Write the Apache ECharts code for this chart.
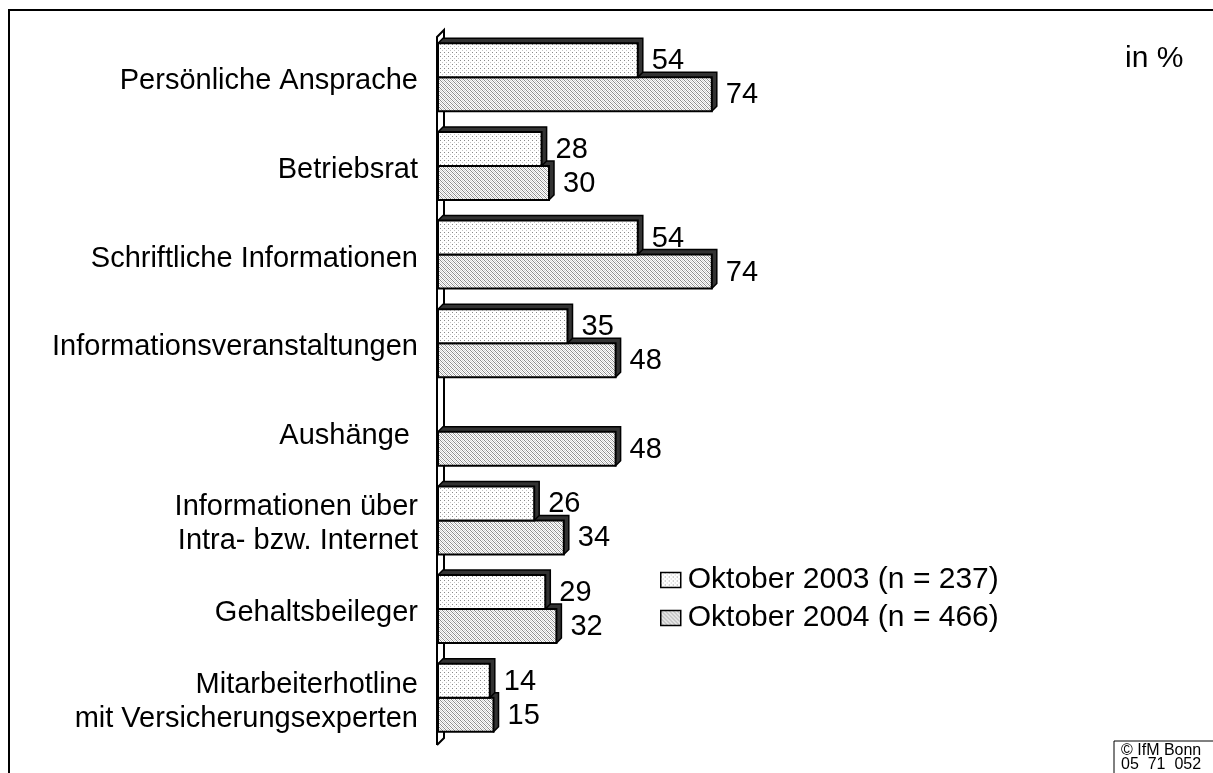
<!DOCTYPE html>
<html>
<head>
<meta charset="utf-8">
<script src="https://cdn.jsdelivr.net/npm/echarts@6/dist/echarts.min.js"></script>
<style>
  html, body { margin: 0; padding: 0; background: #fff; }
  #chart { width: 1213px; height: 773px; }
</style>
</head>
<body>
<div id="chart"></div>
<script>
// Daten
var categories = [
  'Persönliche Ansprache',
  'Betriebsrat',
  'Schriftliche Informationen',
  'Informationsveranstaltungen',
  'Aushänge ',
  'Informationen über\nIntra- bzw. Internet',
  'Gehaltsbeileger',
  'Mitarbeiterhotline\nmit Versicherungsexperten'
];
var seriesNames = ['Oktober 2003 (n = 237)', 'Oktober 2004 (n = 466)'];
var values2003 = [54, 28, 54, 35, null, 26, 29, 14];
var values2004 = [74, 30, 74, 48, 48, 34, 32, 15];

var FONT = '"Liberation Sans", Arial, sans-serif';

// Layout (px)
var gridLeft = 438, gridTop = 33, gridBottom = 31;
var labelShift = 4;  // Kategorietexte etwas tiefer als Balkenmitte
var barW = 34;   // Balkenhöhe
var depth = 5;   // 3D-Tiefe

// Muster wie im Original (Punkte / Schraffur)
function makePattern(type) {
  var c = document.createElement('canvas');
  c.width = 4; c.height = 4;
  var ctx = c.getContext('2d');
  ctx.fillStyle = '#fff';
  ctx.fillRect(0, 0, 4, 4);
  if (type === 'dots') {
    ctx.fillStyle = '#8a8a8a';
    ctx.fillRect(0, 0, 1, 1);
    ctx.fillStyle = '#c4c4c4';
    ctx.fillRect(2, 2, 1, 1);
  } else {
    ctx.fillStyle = '#8c8c8c';
    for (var i = 0; i < 4; i++) ctx.fillRect(i, i, 1, 1);
    ctx.fillStyle = '#d0d0d0';
    for (var j = 0; j < 4; j++) ctx.fillRect((j + 2) % 4, j, 1, 1);
  }
  return { image: c, repeat: 'repeat' };
}
var pat2003 = makePattern('dots');
var pat2004 = makePattern('hatch');

// [wert, kategorieIndex]
function toData(values) {
  return values.map(function (v, i) { return [v == null ? '-' : v, i]; });
}

// 3D-Balken: Front, Deckfläche und Seitenfläche + Wertbeschriftung
function render3D(slot, pattern) {
  return function (params, api) {
    var v = api.value(0);
    if (v == null || isNaN(v)) return;
    var cat = api.value(1);
    var start = api.coord([0, cat]);
    var end = api.coord([v, cat]);
    var x0 = start[0], x1 = end[0];
    var y = start[1] - barW + slot * barW;
    var d = depth;
    return {
      type: 'group',
      children: [
        {
          type: 'polygon',
          shape: { points: [[x0, y], [x0 + d, y - d], [x1 + d, y - d], [x1 + d, y + barW - d], [x1, y + barW]] },
          style: { fill: '#333', stroke: '#000', lineWidth: 1.5 }
        },
        {
          type: 'rect',
          shape: { x: x0, y: y, width: x1 - x0, height: barW },
          style: { fill: pattern, stroke: '#000', lineWidth: 2 }
        },
        {
          type: 'text',
          style: {
            text: String(v), x: x1 + d + 9, y: y + barW / 2 + 1,
            verticalAlign: 'middle', fill: '#000', fontSize: 29, fontFamily: FONT
          }
        }
      ]
    };
  };
}

var chart = echarts.init(document.getElementById('chart'));

var x0 = gridLeft - 1;
var wallTop = gridTop + 4;
var wallBottom = 773 - gridBottom + 3;
var wd = 7;

var option = {
  animation: false,
  backgroundColor: '#fff',
  grid: [
    { left: gridLeft, top: gridTop, bottom: gridBottom, width: 370 },
    // nur für die Kategorietexte
    { left: gridLeft, top: gridTop + labelShift, bottom: gridBottom - labelShift, width: 370 }
  ],
  xAxis: [
    { type: 'value', min: 0, max: 100, show: false, gridIndex: 0 },
    { type: 'value', min: 0, max: 100, show: false, gridIndex: 1 }
  ],
  yAxis: [
    {
      type: 'category', gridIndex: 0, data: categories, inverse: true, show: false
    },
    {
      type: 'category',
      gridIndex: 1,
      data: categories,
      inverse: true,
      axisLine: { show: false },
      axisTick: { show: false },
      splitLine: { show: false },
      axisLabel: {
        color: '#000',
        fontSize: 29,
        fontFamily: FONT,
        margin: 20,
        lineHeight: 34,
        align: 'right'
      }
    }
  ],
  legend: {
    orient: 'vertical',
    left: 660,
    top: 565,
    padding: 0,
    icon: 'rect',
    itemWidth: 20,
    itemHeight: 15,
    itemGap: 8,
    data: seriesNames,
    selectedMode: false,
    itemStyle: { borderColor: '#000', borderWidth: 1.5 },
    textStyle: { color: '#000', fontSize: 30, fontFamily: FONT, lineHeight: 30, padding: [0, 0, 0, 2] }
  },
  series: [
    {
      name: seriesNames[0], type: 'custom', z: 3,
      itemStyle: { color: pat2003 },
      renderItem: render3D(0, pat2003),
      encode: { x: 0, y: 1 },
      data: toData(values2003)
    },
    {
      name: seriesNames[1], type: 'custom', z: 2,
      itemStyle: { color: pat2004 },
      renderItem: render3D(1, pat2004),
      encode: { x: 0, y: 1 },
      data: toData(values2004)
    }
  ],
  graphic: [
    {
      type: 'rect', silent: true, z: 100,
      shape: { x: 9, y: 10, width: 1220, height: 800 },
      style: { fill: 'none', stroke: '#000', lineWidth: 2 }
    },
    {
      type: 'polyline', silent: true, z: 1,
      shape: { points: [[x0, wallBottom], [x0, wallTop], [x0 + wd, wallTop - wd], [x0 + wd, wallBottom - wd], [x0, wallBottom]] },
      style: { fill: '#fff', stroke: '#000', lineWidth: 2 }
    },
    {
      type: 'text', silent: true, left: 1125, top: 44,
      style: { text: 'in %', fill: '#000', fontSize: 30, fontFamily: FONT }
    },
    {
      type: 'rect', silent: true, z: 50,
      shape: { x: 1114, y: 741, width: 110, height: 40 },
      style: { fill: '#fff', stroke: '#000', lineWidth: 1 }
    },
    {
      type: 'text', silent: true, z: 51, left: 1121, top: 743,
      style: { text: '© IfM Bonn\n05  71  052', fill: '#000', fontSize: 16, lineHeight: 14, fontFamily: FONT }
    }
  ]
};

chart.setOption(option);
</script>
</body>
</html>
